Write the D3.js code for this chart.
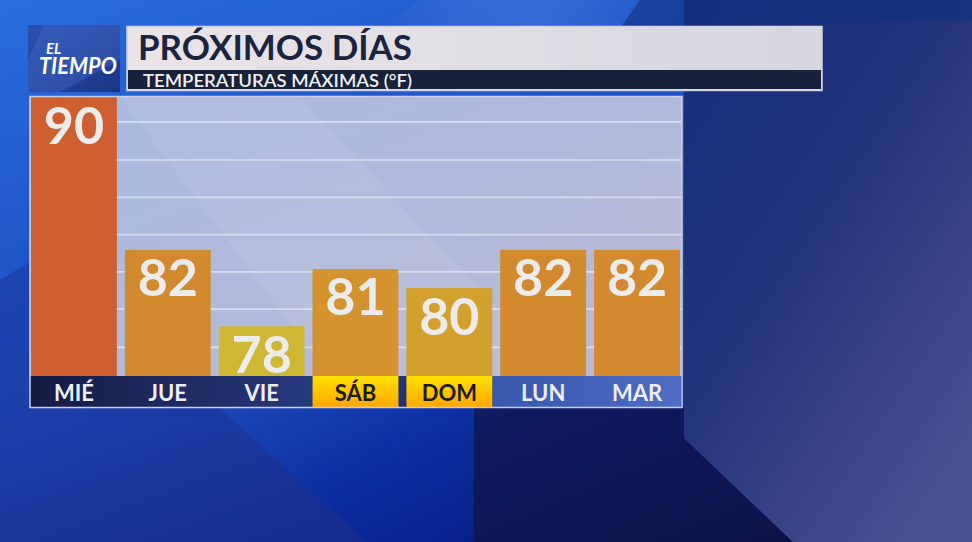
<!DOCTYPE html>
<html>
<head>
<meta charset="utf-8">
<script src="https://cdn.jsdelivr.net/npm/d3@7"></script>
<style>
  html, body { margin: 0; padding: 0; background: #1a3a9a; overflow: hidden; }
  svg { display: block; }
  text { font-family: Lato, "Open Sans", sans-serif; }
</style>
</head>
<body>
<svg id="chart" width="972" height="542"></svg>
<script>
// ---- data ----
const days = ["MIÉ", "JUE", "VIE", "SÁB", "DOM", "LUN", "MAR"];
const highs = [90, 82, 78, 81, 80, 82, 82];
const weekendDays = ["SÁB", "DOM"];
const nextWeekDays = ["LUN", "MAR"];
const gridValues = [76.9, 78.9, 80.85, 82.8, 84.75, 86.7, 88.7];
const titleText = "PRÓXIMOS DÍAS";
const subtitleText = "TEMPERATURAS MÁXIMAS (°F)";
const logoLines = ["EL", "TIEMPO"];

(function () {
const svg = d3.select("#chart");
const W = 972, H = 542;
const defs = svg.append("defs");

function lin(id, x1, y1, x2, y2, stops) {
  const g = defs.append("linearGradient").attr("id", id)
    .attr("x1", x1).attr("y1", y1).attr("x2", x2).attr("y2", y2);
  stops.forEach(s => g.append("stop").attr("offset", s[0]).attr("stop-color", s[1]).attr("stop-opacity", s[2] == null ? 1 : s[2]));
  return "url(#" + id + ")";
}

// ---- background ----
svg.append("rect").attr("width", W).attr("height", H)
  .attr("fill", lin("bgBase", 0, 0, 0.6, 1, [[0, "#2a6ddf"], [0.45, "#1d50c2"], [1, "#1a2f8e"]]));
svg.append("polygon").attr("points", "420,0 660,0 620,30 380,30")
  .attr("fill", lin("streak1", 0, 0, 1, 0, [[0, "#ffffff", 0], [0.55, "#9cc0ff", 0.14], [1, "#ffffff", 0]]));
svg.append("polygon").attr("points", "0,280 30,262 30,410 0,410")
  .attr("fill", "#1a3aa2").attr("opacity", 0.6);
svg.append("polygon").attr("points", "0,408 220,408 366,542 0,542")
  .attr("fill", lin("bl", 0, 0, 1, 1, [[0, "#1c40ac"], [1, "#162b8a"]]));
svg.append("polygon").attr("points", "220,408 474,408 474,542 366,542")
  .attr("fill", lin("vb", 0, 0, 1, 1, [[0, "#1a48b6"], [0.5, "#0c2fa2"], [1, "#081f8a"]]));
svg.append("polygon").attr("points", "474,408 684,408 684,438 793,542 474,542")
  .attr("fill", lin("dn", 0, 0, 1, 1, [[0, "#0f1c62"], [1, "#0b1248"]]));
svg.append("polygon").attr("points", "684,0 972,0 972,542 793,542 684,438")
  .attr("fill", lin("rr", 0, 0, 0.8, 1, [[0, "#142f7e"], [0.45, "#22337a"], [1, "#4a5190"]]));
svg.append("polygon").attr("points", "640,0 972,0 972,20 620,28")
  .attr("fill", "#12307e").attr("opacity", 0.6);

// ---- header ----
svg.append("rect").attr("x", 28).attr("y", 25).attr("width", 92).attr("height", 67)
  .attr("fill", lin("logoBg", 0, 0, 1, 1, [[0, "#2a4fb0"], [1, "#1b3584"]]));
svg.append("polygon").attr("points", "44,25 120,25 120,60 60,92 28,92 28,60")
  .attr("fill", "#4a72d0").attr("opacity", 0.35);
const logo = svg.append("text").attr("font-weight", 700).attr("font-style", "italic").attr("fill", "#ffffff");
logo.append("tspan").attr("x", 46).attr("y", 54).attr("font-size", 15).text(logoLines[0]);
logo.append("tspan").attr("x", 39).attr("y", 74).attr("font-size", 23)
  .attr("textLength", 78).attr("lengthAdjust", "spacingAndGlyphs").text(logoLines[1]);

svg.append("rect").attr("x", 127).attr("y", 26.5).attr("width", 695).attr("height", 64)
  .attr("fill", "#d8d9e3").attr("stroke", "#cfd3e4").attr("stroke-width", 1.5);
svg.append("rect").attr("x", 128).attr("y", 27.5).attr("width", 693).attr("height", 42.5)
  .attr("fill", lin("titleBg", 0, 0, 1, 0, [[0, "#ebe5ea"], [1, "#d5d6df"]]));
svg.append("rect").attr("x", 128).attr("y", 70).attr("width", 693).attr("height", 19)
  .attr("fill", "#172139");
svg.append("text").attr("x", 138).attr("y", 59.5).text(titleText)
  .attr("font-size", 34).attr("font-weight", 700).attr("fill", "#1a2340")
  .attr("textLength", 274).attr("lengthAdjust", "spacingAndGlyphs");
svg.append("text").attr("x", 143).attr("y", 86.5).text(subtitleText)
  .attr("font-size", 16.5).attr("font-weight", 600).attr("fill", "#eef0f5")
  .attr("textLength", 269).attr("lengthAdjust", "spacingAndGlyphs");

// ---- chart ----
const plotLeft = 31, plotRight = 680, plotTop = 97, plotBase = 376, stripBottom = 407;
const x = d3.scaleBand().domain(days).range([plotLeft, plotRight]).paddingInner(0.085).paddingOuter(0);
const y = d3.scaleLinear().domain([75.4, 90]).range([plotBase, plotTop]);
const color = d3.scaleLinear().domain([78, 80, 81, 82, 90])
  .range(["#cdb733", "#d3a02e", "#d4932f", "#d3892e", "#cf5f30"]);

svg.append("rect").attr("x", 30).attr("y", plotTop).attr("width", 652).attr("height", plotBase - plotTop)
  .attr("fill", lin("plotBg", 0, 0, 1, 1, [[0, "#a9b9df"], [0.5, "#b0badc"], [1, "#bcbad2"]]));
svg.append("polygon").attr("points", "120,97 300,97 560,376 330,376")
  .attr("fill", "#ffffff").attr("opacity", 0.07);

svg.append("g").selectAll("line").data(gridValues).join("line")
  .attr("x1", plotLeft).attr("x2", plotRight + 1)
  .attr("y1", d => y(d)).attr("y2", d => y(d))
  .attr("stroke", "#e6e9f5").attr("stroke-opacity", 0.75).attr("stroke-width", 1.6);

const data = days.map((d, i) => ({ day: d, v: highs[i] }));
svg.append("g").selectAll("rect").data(data).join("rect")
  .attr("x", d => x(d.day)).attr("width", x.bandwidth())
  .attr("y", d => y(d.v)).attr("height", d => plotBase - y(d.v))
  .attr("fill", d => color(d.v));

svg.append("g").selectAll("text").data(data).join("text")
  .attr("x", d => x(d.day) + x.bandwidth() / 2)
  .attr("y", d => y(d.v) + 46.5)
  .attr("text-anchor", "middle")
  .attr("font-size", 52).attr("font-weight", 700).attr("fill", "#ececec")
  .text(d => d.v);

svg.append("rect").attr("x", 30).attr("y", plotBase).attr("width", 652).attr("height", stripBottom - plotBase)
  .attr("fill", lin("stripNavy", 0, 0, 1, 0, [[0, "#141b42"], [0.45, "#263a80"], [0.7, "#1e2c66"], [1, "#1e2c66"]]));
const gap = x.step() - x.bandwidth();
const nextX0 = x(nextWeekDays[0]) - gap;
svg.append("rect").attr("x", nextX0).attr("y", plotBase)
  .attr("width", plotRight + 1 - nextX0).attr("height", stripBottom - plotBase)
  .attr("fill", lin("stripBlue", 0, 0, 1, 0, [[0, "#3a57ae"], [1, "#4f6cc6"]]));
const yellow = lin("stripYellow", 0, 0, 0, 1, [[0, "#ffe000"], [1, "#ffa700"]]);
svg.append("g").selectAll("rect").data(weekendDays).join("rect")
  .attr("x", d => x(d)).attr("y", plotBase).attr("width", x.bandwidth()).attr("height", stripBottom - plotBase)
  .attr("fill", yellow);

svg.append("g").selectAll("text").data(days).join("text")
  .attr("x", d => x(d) + x.bandwidth() / 2).attr("y", 400.5)
  .attr("text-anchor", "middle")
  .attr("font-size", 22).attr("font-weight", 700)
  .attr("fill", d => weekendDays.includes(d) ? "#1b1b1b" : "#ececf2")
  .text(d => d);

svg.append("rect").attr("x", 30).attr("y", 96.5).attr("width", 652).attr("height", 311)
  .attr("fill", "none").attr("stroke", "#c9cfe6").attr("stroke-width", 1.5);
})();
</script>
</body>
</html>
